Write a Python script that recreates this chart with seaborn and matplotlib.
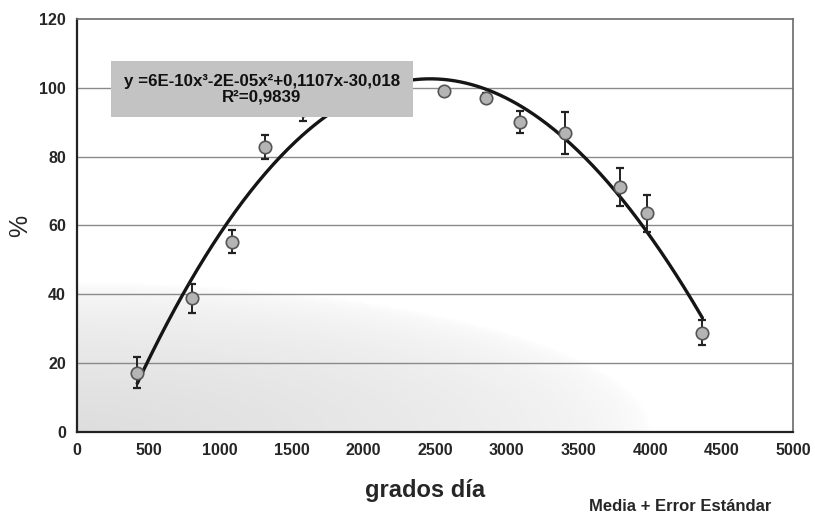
import numpy as np
import pandas as pd
import matplotlib
matplotlib.use("Agg")
import matplotlib.pyplot as plt
import seaborn as sns

# Accumulated degree-days and percentage (mean ± standard error)
grados_dia = [420, 805, 1080, 1313, 1578, 2563, 2856, 3090, 3408, 3792, 3980, 4365]
porcentaje = [17.2, 38.8, 55.3, 82.8, 93.5, 99.1, 97.1, 90.1, 86.9, 71.2, 63.6, 28.8]
error_est = [4.5, 4.3, 3.3, 3.5, 3.0, 1.0, 1.3, 3.3, 6.0, 5.6, 5.4, 3.6]

x_ticks = [0, 500, 1000, 1500, 2000, 2500, 3000, 3500, 4000, 4500, 5000]
y_ticks = [0, 20, 40, 60, 80, 100, 120]

ecuacion = "y =6E-10x³-2E-05x²+0,1107x-30,018\nR²=0,9839"

df = pd.DataFrame({"grados": grados_dia, "pct": porcentaje, "se": error_est})

# Third-order polynomial trend through the means
coef = np.polyfit(df["grados"], df["pct"], 3)
xs = np.linspace(df["grados"].min(), df["grados"].max(), 300)
trend = pd.DataFrame({"grados": xs, "pct": np.polyval(coef, xs)})

sns.set_style("white")
plt.rcParams["font.family"] = ["Liberation Sans", "DejaVu Sans"]

fig = plt.figure(figsize=(8.15, 5.16), dpi=100)
ax = fig.add_axes([0.0945, 0.163, 0.879, 0.800])

ax.set_xlim(0, 5000)
ax.set_ylim(0, 120)

# Faint grey wash in the lower-left part of the plot area
gx = np.linspace(0, 1, 300)
gy = np.linspace(0, 1, 200)
GX, GY = np.meshgrid(gx, gy)
shade = np.clip(1 - np.sqrt((GX / 0.8) ** 2 + (GY / 0.36) ** 2), 0, 1) ** 0.5
rgba = np.zeros((200, 300, 4))
rgba[..., :3] = 0.74
rgba[..., 3] = shade * 0.5
ax.imshow(rgba, extent=[0, 5000, 0, 120], origin="lower", aspect="auto",
          zorder=0, interpolation="bilinear")

for yv in y_ticks[1:-1]:
    ax.axhline(yv, color="#8a8a8a", lw=1.0, zorder=1)

sns.lineplot(data=trend, x="grados", y="pct", ax=ax, color="#151515",
             lw=2.4, zorder=3)
ax.errorbar(df["grados"], df["pct"], yerr=df["se"], fmt="none",
            ecolor="#222222", elinewidth=1.4, capsize=3, capthick=1.6, zorder=4)
sns.scatterplot(data=df, x="grados", y="pct", ax=ax, s=80, color="#b4b4b4",
                edgecolor="#555555", linewidth=1.2, zorder=5)

ax.text(0.258, 0.830, ecuacion, transform=ax.transAxes, ha="center",
        va="center", fontsize=12.2, fontweight="bold", color="#111111",
        linespacing=1.05, zorder=6,
        bbox=dict(boxstyle="square,pad=0.75", facecolor="#c3c3c3",
                  edgecolor="none"))

ax.set_xticks(x_ticks)
ax.set_yticks(y_ticks)
ax.set_xticklabels([str(v) for v in x_ticks], fontsize=11.5, fontweight="bold")
ax.set_yticklabels([str(v) for v in y_ticks], fontsize=11.5, fontweight="bold")
ax.tick_params(axis="x", direction="inout", length=12, width=1.3,
               color="#222222", pad=2)
ax.tick_params(axis="y", direction="out", length=5, width=1.3,
               color="#222222", pad=3)

for side in ["left", "bottom"]:
    ax.spines[side].set_color("#222222")
    ax.spines[side].set_linewidth(1.6)
for side in ["top", "right"]:
    ax.spines[side].set_color("#6a6a6a")
    ax.spines[side].set_linewidth(1.2)

ax.set_xlabel("grados día", fontsize=17, fontweight="bold")
ax.xaxis.set_label_coords(0.486, -0.115)
ax.set_ylabel("%", fontsize=18)
ax.yaxis.set_label_coords(-0.062, 0.5)
fig.text(0.834, 0.018, "Media + Error Estándar", ha="center", va="center",
         fontsize=12, fontweight="bold")

fig.savefig("out.png", dpi=100, facecolor="white")
